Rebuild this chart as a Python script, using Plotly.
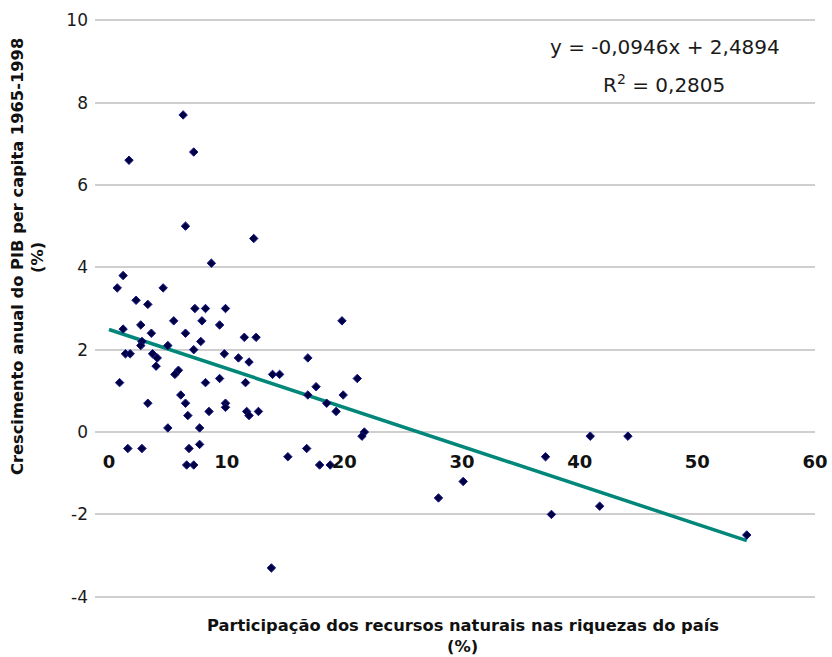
import plotly.graph_objects as go

# Participação dos recursos naturais (% das riquezas) vs crescimento anual do PIB per capita
recursos = [
    6.3, 7.2, 1.7, 6.5, 12.3, 8.7, 1.2, 0.7, 4.6, 2.3,
    3.3, 7.3, 8.2, 9.9, 5.5, 7.9, 9.4, 2.7, 1.2, 3.6,
    6.5, 11.5, 12.5, 2.8, 2.7, 5.0, 7.8, 7.2, 1.4, 1.8,
    3.7, 4.1, 4.0, 9.8, 11.0, 11.9, 13.9, 14.5, 5.9, 5.6,
    0.9, 8.2, 9.4, 11.6, 6.1, 6.5, 3.3, 9.9, 9.9, 8.5,
    11.7, 11.9, 12.7, 6.7, 5.0, 7.7, 7.7, 1.6, 2.8, 6.8,
    6.6, 7.2, 15.2, 19.8, 16.9, 21.1, 17.6, 16.9, 19.9, 18.5,
    19.3, 21.7, 21.5, 16.8, 17.9, 18.8, 30.1, 28.0, 40.9, 44.1,
    37.1, 41.7, 37.6, 54.2, 13.8,
]
crescimento = [
    7.7, 6.8, 6.6, 5.0, 4.7, 4.1, 3.8, 3.5, 3.5, 3.2,
    3.1, 3.0, 3.0, 3.0, 2.7, 2.7, 2.6, 2.6, 2.5, 2.4,
    2.4, 2.3, 2.3, 2.2, 2.1, 2.1, 2.2, 2.0, 1.9, 1.9,
    1.9, 1.8, 1.6, 1.9, 1.8, 1.7, 1.4, 1.4, 1.5, 1.4,
    1.2, 1.2, 1.3, 1.2, 0.9, 0.7, 0.7, 0.7, 0.6, 0.5,
    0.5, 0.4, 0.5, 0.4, 0.1, 0.1, -0.3, -0.4, -0.4, -0.4,
    -0.8, -0.8, -0.6, 2.7, 1.8, 1.3, 1.1, 0.9, 0.9, 0.7,
    0.5, 0.0, -0.1, -0.4, -0.8, -0.8, -1.2, -1.6, -0.1, -0.1,
    -0.6, -1.8, -2.0, -2.5, -3.3,
]

# Linear trend reported on the chart
slope = -0.0946
intercept = 2.4894
r_squared = 0.2805

x_ticks = [0, 10, 20, 30, 40, 50, 60]
x_tick_labels = ["0", "10", "20", "30", "40", "50", "60"]
y_ticks = [-4, -2, 0, 2, 4, 6, 8, 10]
y_tick_labels = ["-4", "-2", "0", "2", "4", "6", "8", "10"]

FONT = "DejaVu Sans"
x_min, x_max = -1.19, 60
y_min, y_max = -4.03, 10.03


def comma(v):
    return f"{v:.4f}".replace(".", ",")


trend_x = [0, max(recursos)]
trend_y = [intercept + slope * v for v in trend_x]

fig = go.Figure()
fig.add_trace(go.Scatter(
    x=trend_x, y=trend_y, mode="lines",
    line=dict(color="#00877a", width=3.5),
    hoverinfo="skip", showlegend=False,
))
fig.add_trace(go.Scatter(
    x=recursos, y=crescimento, mode="markers",
    marker=dict(symbol="diamond", size=6.5, color="#000040",
                line=dict(color="#14148c", width=1)),
    showlegend=False,
))

fig.update_layout(
    width=832, height=657,
    margin=dict(l=95, r=17, t=19, b=59),
    paper_bgcolor="white", plot_bgcolor="white",
    font=dict(family=FONT, color="#1a1a1a"),
    xaxis=dict(
        range=[x_min, x_max], tickvals=x_ticks, ticktext=x_tick_labels,
        anchor="free", position=(0 - y_min) / (y_max - y_min),
        showgrid=False, zeroline=False, showline=False, ticks="",
        tickfont=dict(family=FONT, size=18, color="#111111", weight="bold"),
        ticklabelstandoff=17, automargin=False,
    ),
    yaxis=dict(
        range=[y_min, y_max], tickvals=y_ticks, ticktext=y_tick_labels,
        showgrid=True, gridcolor="#cfcfcf", gridwidth=1.5,
        zeroline=False, showline=False, ticks="",
        tickfont=dict(family=FONT, size=17, color="#1a1a1a"),
        ticklabelstandoff=6, automargin=False,
    ),
)

title_font = dict(size=16.3, weight="bold", color="#111111")
annotations = [
    dict(text="Crescimento anual do PIB per capita 1965-1998", x=-0.1069, y=0.589,
         textangle=-90, font=dict(title_font)),
    dict(text="(%)", x=-0.0792, y=0.589, textangle=-90, font=dict(title_font)),
    dict(text="Participação dos recursos naturais nas riquezas do país",
         x=0.511, y=-0.0468, font=dict(title_font)),
    dict(text="(%)", x=0.511, y=-0.0832, font=dict(title_font)),
    dict(text="y = %sx + %s" % (comma(slope), comma(intercept)),
         x=0.7917, y=0.9515, font=dict(size=20, color="#1a1a1a")),
    dict(text="R<sup>2</sup> = " + comma(r_squared),
         x=0.790, y=0.887, font=dict(size=20, color="#1a1a1a")),
]
for a in annotations:
    a.update(xref="paper", yref="paper", showarrow=False, xanchor="center", yanchor="middle")
    a["font"]["family"] = FONT
fig.update_layout(annotations=annotations)

fig.write_html("out.html")
